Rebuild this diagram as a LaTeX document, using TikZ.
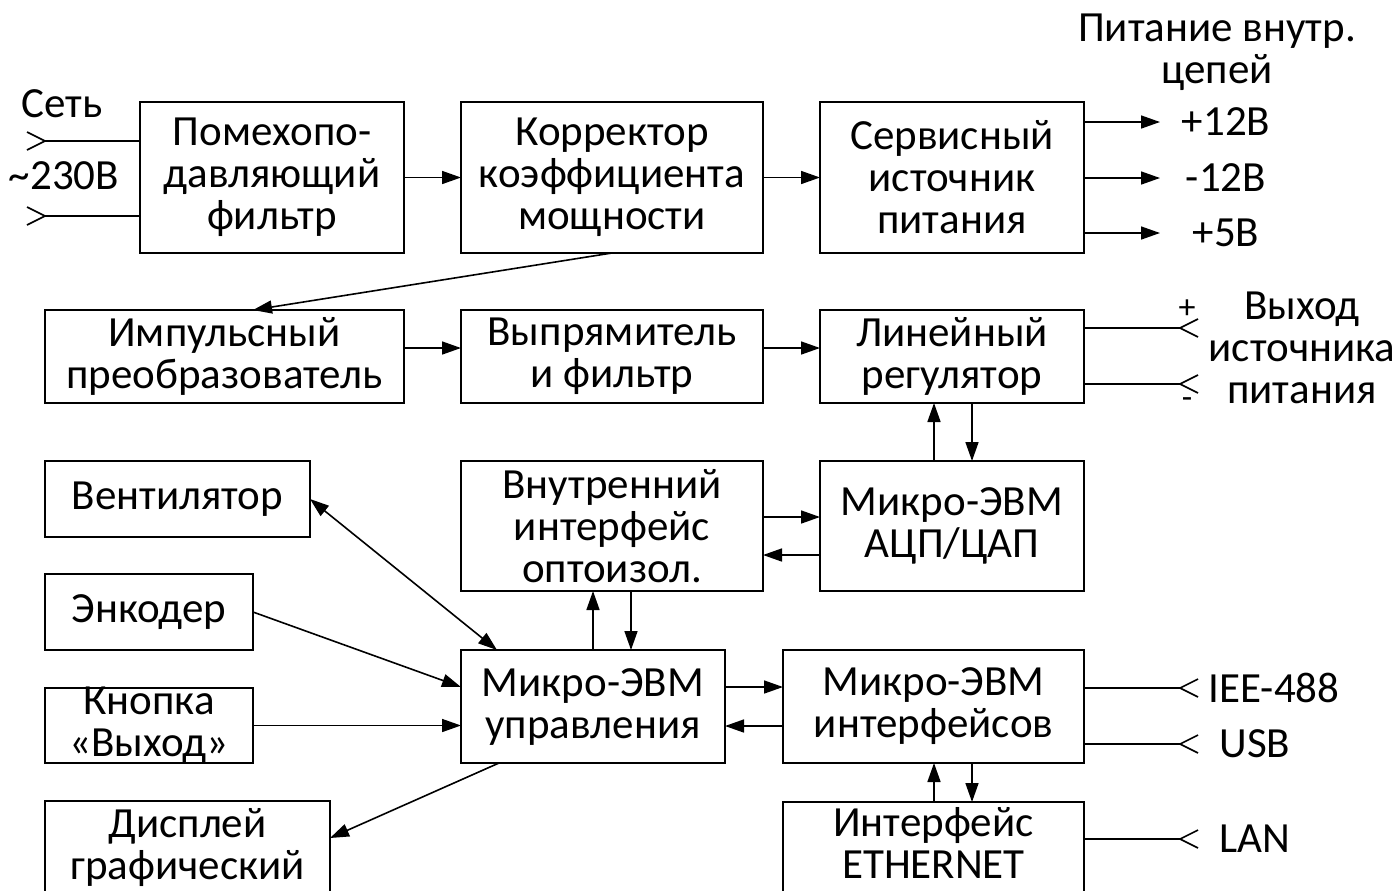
\documentclass[tikz,border=0pt]{standalone}
\usepackage{fontspec}
\setmainfont{Carlito}
\usetikzlibrary{arrows.meta}
\newcommand\mkbox[6]{%
  \node[box,minimum width={(#4-#2)*0.5pt},minimum height={(#5-#3)*0.5pt}] (#1) at ({(#2+#4)/2},{(#3+#5)/2}) {};
  \node[lbl] (#1t) at (#1.center) {#6};}
\begin{document}
\begin{tikzpicture}[x=0.5pt,y=-0.5pt,
  box/.style={draw,line width=1pt,inner sep=0pt,outer sep=0pt},
  lbl/.style={inner sep=0pt,align=center,font=\fontsize{21.5}{21}\selectfont},
  sgn/.style={inner sep=0pt,font=\fontsize{17}{17}\selectfont},
  arr/.style={line width=0.8pt,-{Triangle[length=9.5pt,width=6.5pt]}},
  darr/.style={line width=0.8pt,{Triangle[length=9.5pt,width=6.5pt]}-{Triangle[length=9.5pt,width=6.5pt]}},
  ln/.style={line width=0.8pt}]
\useasboundingbox (0,0) rectangle (1397,890);
% boxes
\mkbox{pf}{140}{102}{404}{253}{Помехопо-\\давляющий\\фильтр}
\mkbox{kk}{461}{102}{763}{253}{Корректор\\коэффициента\\мощности}
\mkbox{svc}{820}{102}{1084}{253}{Сервисный\\источник\\питания}
\mkbox{imp}{45}{310}{404}{403}{Импульсный\\преобразователь}
\mkbox{vyp}{461}{310}{763}{403}{Выпрямитель\\и фильтр}
\mkbox{lin}{820}{310}{1084}{403}{Линейный\\регулятор}
\mkbox{vent}{45}{461}{310}{537}{Вентилятор}
\mkbox{vnutr}{461}{461}{763}{591}{Внутренний\\интерфейс\\оптоизол.}
\mkbox{adc}{820}{461}{1084}{591}{Микро-ЭВМ\\АЦП/ЦАП}
\mkbox{enc}{45}{574}{253}{650}{Энкодер}
\mkbox{btn}{45}{688}{253}{763}{Кнопка\\«Выход»}
\mkbox{mcu}{461}{650}{725}{763}{Микро-ЭВМ\\управления}
\mkbox{mif}{783}{650}{1084}{763}{Микро-ЭВМ\\интерфейсов}
% boxes running past the bottom edge
\node[box,minimum width=142.5pt,minimum height=60pt] (disp) at (187.5,861) {};
\node[lbl] (dispt) at (187.5,847) {Дисплей\\графический};
\node[box,minimum width=150.5pt,minimum height=60pt] (eth) at (933.5,862) {};
\node[lbl] (etht) at (933.5,843) {Интерфейс\\ETHERNET};
% input
\node[lbl] (set) at (62,104) {Сеть};
\node[lbl] (v230) at (64,176) {\textasciitilde230В};
\coordinate (in1) at (45,141);
\coordinate (in2) at (45,216);
\draw[ln] (in1) -- (pf.west |- in1);
\draw[ln] (in2) -- (pf.west |- in2);
\draw[ln] (in1) ++(-18,-9) -- (in1) -- ++(-18,9);
\draw[ln] (in2) ++(-18,-9) -- (in2) -- ++(-18,9);
% top chain
\draw[arr] (pf.east) -- (kk.west);
\draw[arr] (kk.east) -- (svc.west);
\draw[arr] (612,0 |- kk.south) -- (253,0 |- imp.north);
% service outputs
\node[lbl] (pit) at (1217,52) {Питание внутр.\\цепей};
\coordinate (o1) at (1160,122);
\coordinate (o2) at (1160,178);
\coordinate (o3) at (1160,233);
\draw[arr] (svc.east |- o1) -- (o1);
\draw[arr] (svc.east |- o2) -- (o2);
\draw[arr] (svc.east |- o3) -- (o3);
\node[lbl] (p12) at (1226,122) {+12В};
\node[lbl] (m12) at (1226,178) {-12В};
\node[lbl] (p5) at (1226,233) {+5В};
% second row
\draw[arr] (imp.east |- 0,348) -- (vyp.west |- 0,348);
\draw[arr] (vyp.east |- 0,348) -- (lin.west |- 0,348);
\coordinate (l1) at (1180,328);
\coordinate (l2) at (1180,384);
\draw[ln] (lin.east |- l1) -- (l1);
\draw[ln] (lin.east |- l2) -- (l2);
\draw[ln] (l1) ++(18,-9) -- (l1) -- ++(18,9);
\draw[ln] (l2) ++(18,-9) -- (l2) -- ++(18,9);
\node[sgn] (plus) at (1187,309) {+};
\node[sgn] (minus) at (1187,403) {-};
\node[lbl] (vyh) at (1302,348) {Выход\\источника\\питания};
% lin <-> adc
\draw[arr] (934,0 |- adc.north) -- (934,0 |- lin.south);
\draw[arr] (972,0 |- lin.south) -- (972,0 |- adc.north);
% vnutr <-> adc
\draw[arr] (vnutr.east |- 0,517) -- (adc.west |- 0,517);
\draw[arr] (adc.west |- 0,555) -- (vnutr.east |- 0,555);
% vnutr <-> mcu
\draw[arr] (593,0 |- mcu.north) -- (593,0 |- vnutr.south);
\draw[arr] (631,0 |- vnutr.south) -- (631,0 |- mcu.north);
% left side
\draw[darr] (vent.east) -- (497,0 |- mcu.north);
\draw[arr] (enc.east) -- (mcu.west |- 0,687);
\draw[arr] (btn.east) -- (mcu.west |- btn.east);
\draw[arr] (499,0 |- mcu.south) -- (disp.east |- 0,838);
% mcu <-> mif
\draw[arr] (mcu.east |- 0,687) -- (mif.west |- 0,687);
\draw[arr] (mif.west |- 0,726) -- (mcu.east |- 0,726);
% mif <-> eth
\draw[arr] (934,0 |- eth.north) -- (934,0 |- mif.south);
\draw[arr] (972,0 |- mif.south) -- (972,0 |- eth.north);
% interface outputs
\coordinate (i1) at (1180,688);
\coordinate (i2) at (1180,744);
\coordinate (i3) at (1180,839);
\draw[ln] (mif.east |- i1) -- (i1);
\draw[ln] (mif.east |- i2) -- (i2);
\draw[ln] (eth.east |- i3) -- (i3);
\draw[ln] (i1) ++(18,-9) -- (i1) -- ++(18,9);
\draw[ln] (i2) ++(18,-9) -- (i2) -- ++(18,9);
\draw[ln] (i3) ++(18,-9) -- (i3) -- ++(18,9);
\node[lbl] (iee) at (1274,688) {IEE-488};
\node[lbl] (usb) at (1255,744) {USB};
\node[lbl] (lan) at (1255,839) {LAN};
\end{tikzpicture}
\end{document}
